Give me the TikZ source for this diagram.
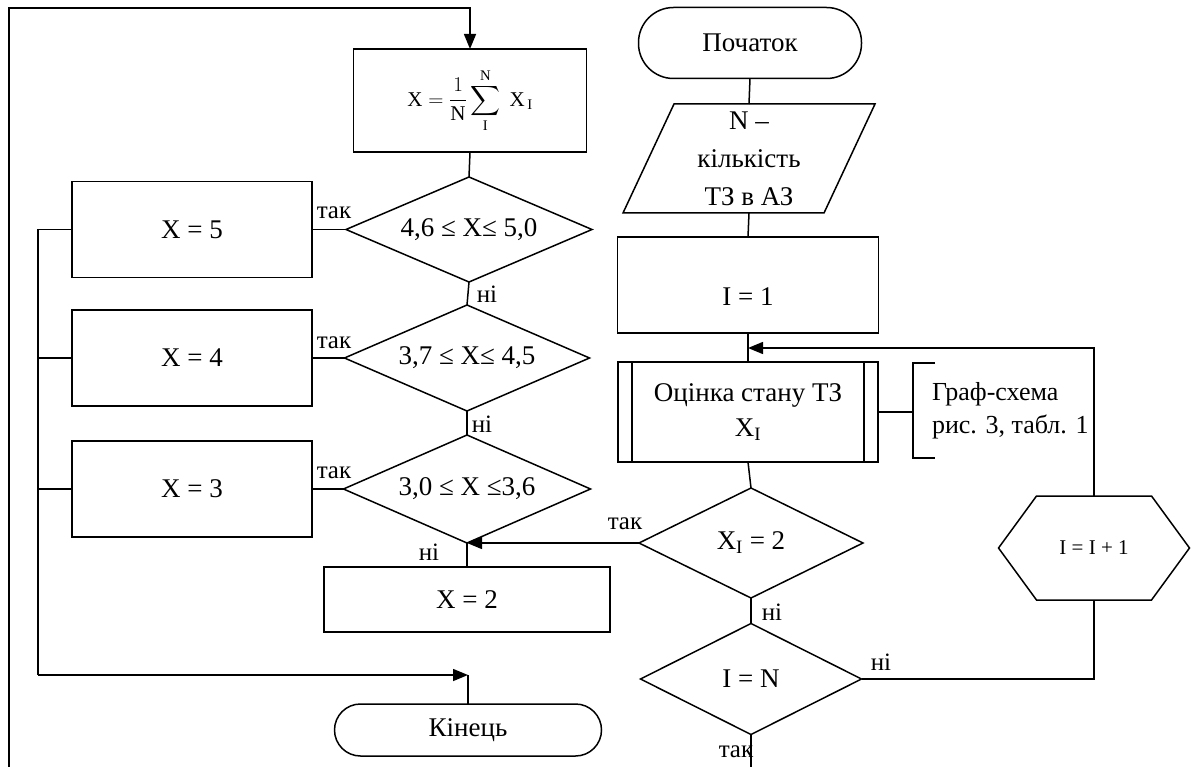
\documentclass[tikz,border=0pt]{standalone}
\usepackage{fix-cm}
\usepackage{amsmath}
\usepackage{fontspec}
\setmainfont{Liberation Serif}
\usetikzlibrary{shapes.geometric,arrows.meta}
\begin{document}
\begin{tikzpicture}[x=1pt,y=-1pt,
  line width=1.5pt,
  every node/.style={font=\fontsize{27}{38}\selectfont, inner sep=0pt, outer sep=0pt},
  arr/.style={-{Triangle[length=15pt,width=12pt]}},
  box/.style={draw, rectangle, minimum width=#1},
  cond/.style={draw, diamond, aspect=2.3},
  lbl/.style={font=\fontsize{25}{28}\selectfont}]
\useasboundingbox (0,0) rectangle (1191,767);

% ---- right column: input, loop over all technical states ----
\node[draw, rounded corners=35pt, minimum width=223, minimum height=71] (start) at (750,43) {Початок};
\node[minimum width=252, minimum height=109, align=center, font=\fontsize{27}{38}\selectfont] (inp) at (749,158.5) {N –\\кількість\\ТЗ в АЗ};
\draw ([xshift=51pt]inp.north west) -- (inp.north east) -- ([xshift=-51pt]inp.south east) -- (inp.south west) -- cycle;
\node[box=261, minimum height=96] (i1) at (748,285) {};
\node (i1text) at ([yshift=-12pt]i1.center) {I = 1};
\node[box=260, minimum height=100, align=center, font=\fontsize{27}{35}\selectfont] (sub) at (748,412) {Оцінка стану ТЗ\\X\textsubscript{I}};
\draw ([xshift=14pt]sub.north west) -- ([xshift=14pt]sub.south west);
\draw ([xshift=-14pt]sub.north east) -- ([xshift=-14pt]sub.south east);
\node[cond, aspect=2, minimum width=224, minimum height=110] (d4) at (751,543) {X\textsubscript{I} = 2};
\node[cond, aspect=2, minimum width=221, minimum height=111] (d5) at (751,679) {I = N};
\node[minimum width=191, minimum height=104, font=\fontsize{21}{24}\selectfont] (hex) at (1094,548) {I = I + 1};
\draw (hex.west) -- ([xshift=38pt]hex.north west) -- ([xshift=-38pt]hex.north east) -- (hex.east)
      -- ([xshift=-38pt]hex.south east) -- ([xshift=38pt]hex.south west) -- cycle;

% comment bracket of the subroutine
\coordinate (brk) at (913,412);
\coordinate (bt) at (935,363);
\coordinate (bb) at (935,458);
\draw (sub.east) -- (brk);
\draw (bt) -| (brk) |- (bb);
\node[align=left, anchor=west, font=\fontsize{26}{33}\selectfont] (note) at (932,411) {Граф-схема\\рис. 3, табл. 1};

% ---- left column: averaging and grading ----
\node[box=233, minimum height=103] (sum) at (470,100.5)
  {\fontsize{21}{24}\selectfont $\displaystyle \mathrm{X} = \frac{1}{\mathrm{N}}\sum_{\mathrm{I}}^{\mathrm{N}}\;\mathrm{X}_{\,\mathrm{I}}$};
\node[cond, minimum width=246, minimum height=105] (d1) at (469,229.5) {4,6 ≤ X≤ 5,0};
\node[cond, minimum width=245, minimum height=106] (d2) at (467,358) {3,7 ≤ X≤ 4,5};
\node[cond, minimum width=247, minimum height=108] (d3) at (467,489) {3,0 ≤ X ≤3,6};
\node[box=286, minimum height=65] (x2) at (467,599.5) {X = 2};
\node[draw, rounded corners=26pt, minimum width=267, minimum height=52] (end) at (468,730) {Кінець};

\node[box=240, minimum height=96] (x5) at (192,229.5) {X = 5};
\node[box=240, minimum height=96] (x4) at (192,358) {X = 4};
\node[box=240, minimum height=96] (x3) at (192,489) {X = 3};

% ---- connectors ----
\coordinate (top) at (470,8);
\coordinate (outer) at (9,767);
\draw[arr] (outer) |- (top) -- (sum.north);
\draw (sum.south) -- (d1.north);
\draw (d1.south) -- (d2.north);
\draw (d2.south) -- (d3.north);
\draw (d3.south) -- (x2.north);
\draw (d1.west) -- (x5.east);
\draw (d2.west) -- (x4.east);
\draw (d3.west) -- (x3.east);

\coordinate (bustop) at (38,229.5);
\coordinate (busbot) at (38,675);
\coordinate (endin) at (468,675);
\draw (x5.west) -- (bustop) -- (busbot);
\draw (x4.west) -- (x4.west -| bustop);
\draw (x3.west) -- (x3.west -| bustop);
\draw[arr] (busbot) -- (endin);
\draw (endin) -- (end.north);

\draw (start.south) -- (inp.north);
\draw (inp.south) -- (i1.north);
\draw (i1.south) -- (sub.north);
\draw (sub.south) -- (d4.north);
\draw (d4.south) -- (d5.north);
\draw[arr] (d4.west) -- (d3.south);
\coordinate (loopin) at (748,348);
\draw (d5.east) -| (hex.south);
\draw[arr] (hex.north) |- (loopin);
\coordinate (exit) at (751,767);
\draw (d5.south) -- (exit);

% ---- branch labels ----
\node[lbl] (t1) at (334,213) {так};
\node[lbl] (t2) at (334,343) {так};
\node[lbl] (t3) at (334,473) {так};
\node[lbl] (n1) at (487,294) {ні};
\node[lbl] (n2) at (482,424) {ні};
\node[lbl] (n3) at (429,552) {ні};
\node[lbl] (t4) at (625,524) {так};
\node[lbl] (n4) at (772,612) {ні};
\node[lbl] (n5) at (881,662) {ні};
\node[lbl] (t5) at (736,752) {так};
\end{tikzpicture}
\end{document}
